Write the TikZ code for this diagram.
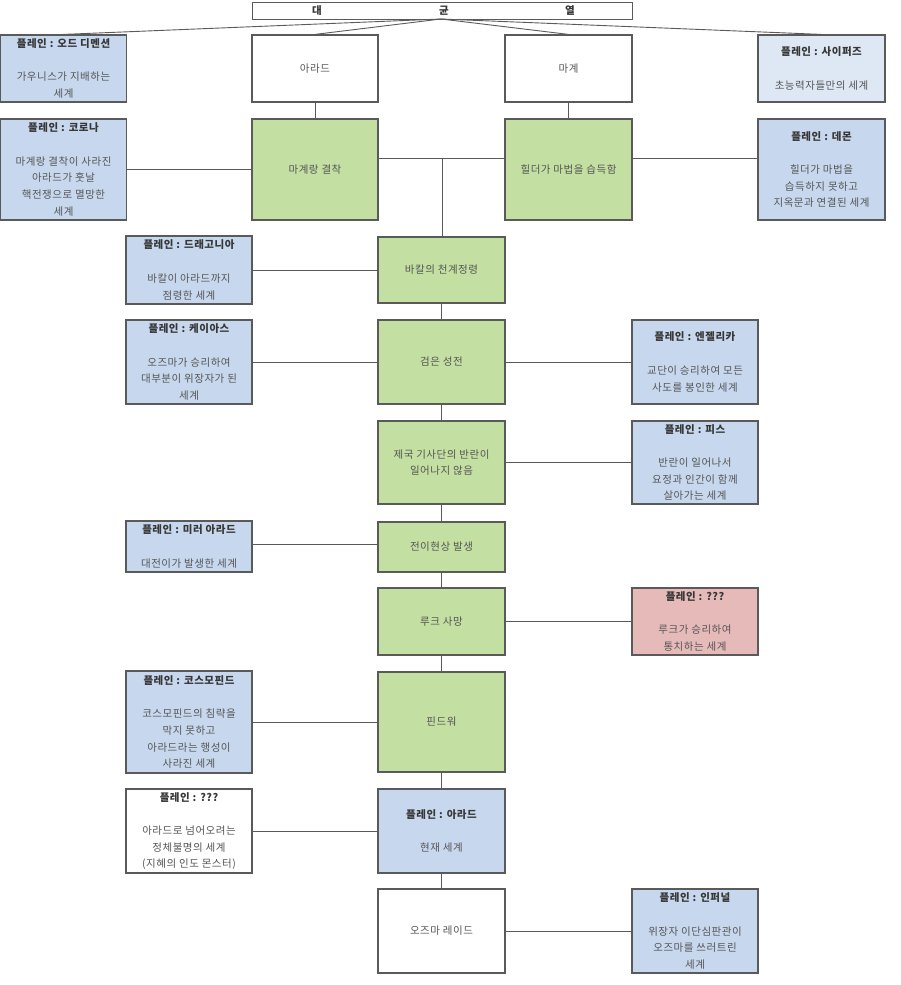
\documentclass[tikz,border=0pt]{standalone}
\usepackage{fontspec}
\setmainfont{Noto Sans CJK KR}[LetterSpace=5]
\definecolor{gfill}{RGB}{196,223,162}
\definecolor{bfill}{RGB}{199,216,238}
\definecolor{lbfill}{RGB}{222,232,245}
\definecolor{rfill}{RGB}{231,186,186}
\definecolor{edge}{RGB}{90,90,90}
\definecolor{txt}{RGB}{85,85,85}
\definecolor{head}{RGB}{55,55,55}
\newcommand\hd[1]{{\color{head}\bfseries #1}\\[16.7pt]}
\begin{document}
\begin{tikzpicture}[x=1pt,y=-1pt,
  box/.style={draw=edge,line width=1.2pt,align=center,inner sep=0pt,
    text=txt,font=\fontsize{10.5}{16.7}\selectfont},
  greenbox/.style={box,fill=gfill},
  bluebox/.style={box,fill=bfill},
  lbluebox/.style={box,fill=lbfill},
  redbox/.style={box,fill=rfill},
  whitebox/.style={box,fill=white},
  titletext/.style={text=head,font=\bfseries\fontsize{10.5}{11}\selectfont},
  conn/.style={draw=edge,line width=0.9pt}]
\useasboundingbox (0,0) rectangle (900,985);
% geometry helper: \bx{name}{style}{cx}{y1}{y2}{w}{text}
\newcommand\bx[7]{\node[#2,minimum width=#6pt,minimum height={(#5-#4)*1pt}] (#1) at (#3,{(#4+#5)/2}) {#7};}
% title
\node[draw=edge,line width=1pt,fill=white,minimum width=380pt,minimum height=17pt,inner sep=0pt] (title) at (442,10.5) {};
\node[titletext] (t1) at (317,10.5) {대};
\node[titletext] (t2) at (444,10.5) {균};
\node[titletext] (t3) at (570,10.5) {열};
% top row
\bx{ode}{bluebox}{63.5}{35}{102}{126}{\hd{플레인 : 오드 디멘션}가우니스가 지배하는\\세계}
\bx{arad}{whitebox}{315}{35}{102}{126}{아라드}
\bx{magye}{whitebox}{568.5}{35}{102}{127}{마계}
\bx{cyphers}{lbluebox}{821.5}{35}{102}{127}{\hd{플레인 : 사이퍼즈}초능력자들만의 세계}
% second row
\bx{corona}{bluebox}{63.5}{119}{220}{126}{\hd{플레인 : 코로나}마계랑 결착이 사라진\\아라드가 훗날\\핵전쟁으로 멸망한\\세계}
\bx{gyeol}{greenbox}{315}{119}{220}{126}{마계랑 결착}
\bx{hilder}{greenbox}{568.5}{119}{220}{127}{힐더가 마법을 습득함}
\bx{demon}{bluebox}{821.5}{119}{220}{127}{\hd{플레인 : 데몬}힐더가 마법을\\습득하지 못하고\\지옥문과 연결된 세계}
% center column
\bx{bakal}{greenbox}{441.5}{237}{303}{127}{바칼의 천계정령}
\bx{black}{greenbox}{441.5}{320}{404}{127}{검은 성전}
\bx{empire}{greenbox}{441.5}{421}{504}{127}{제국 기사단의 반란이\\일어나지 않음}
\bx{transfer}{greenbox}{441.5}{522}{572}{127}{전이현상 발생}
\bx{luke}{greenbox}{441.5}{588}{655}{127}{루크 사망}
\bx{fiend}{greenbox}{441.5}{672}{772}{127}{핀드워}
\bx{aradnow}{bluebox}{441.5}{789}{873}{127}{\hd{플레인 : 아라드}현재 세계}
\bx{ozma}{whitebox}{441.5}{889}{973}{127}{오즈마 레이드}
% left column
\bx{dragonia}{bluebox}{189}{236}{304}{126}{\hd{플레인 : 드래고니아}바칼이 아라드까지\\점령한 세계}
\bx{chaos}{bluebox}{189}{320}{404}{126}{\hd{플레인 : 케이아스}오즈마가 승리하여\\대부분이 위장자가 된\\세계}
\bx{mirror}{bluebox}{189}{521}{572}{126}{\hd{플레인 : 미러 아라드}대전이가 발생한 세계}
\bx{cosmo}{bluebox}{189}{671}{773}{126}{\hd{플레인 : 코스모핀드}코스모핀드의 침략을\\막지 못하고\\아라드라는 행성이\\사라진 세계}
\bx{unkb}{whitebox}{189}{789}{873}{126}{\hd{플레인 : ???}아라드로 넘어오려는\\정체불명의 세계\\(지혜의 인도 몬스터)}
% right column
\bx{angel}{bluebox}{695}{320}{404}{126}{\hd{플레인 : 엔젤리카}교단이 승리하여 모든\\사도를 봉인한 세계}
\bx{peace}{bluebox}{695}{421}{504}{126}{\hd{플레인 : 피스}반란이 일어나서\\요정과 인간이 함께\\살아가는 세계}
\bx{unka}{redbox}{695}{588}{655}{126}{\hd{플레인 : ???}루크가 승리하여\\통치하는 세계}
\bx{infernal}{bluebox}{695}{889}{973}{126}{\hd{플레인 : 인퍼널}위장자 이단심판관이\\오즈마를 쓰러트린\\세계}
% connectors from title
\coordinate (tsrc) at (441,19);
\draw[conn] (tsrc) -- (ode.north);
\draw[conn] (tsrc) -- (arad.north);
\draw[conn] (tsrc) -- (magye.north);
\draw[conn] (tsrc) -- (cyphers.north);
\draw[conn] (arad) -- (gyeol);
\draw[conn] (magye) -- (hilder);
\draw[conn] (corona) -- (gyeol);
\coordinate (jc) at (442,158);
\draw[conn] (gyeol.east |- jc) -- (hilder.west |- jc);
\draw[conn] (hilder.east |- jc) -- (demon.west |- jc);
\draw[conn] (jc) -- (bakal.north -| jc);
\draw[conn] (bakal) -- (black);
\draw[conn] (black) -- (empire);
\draw[conn] (empire) -- (transfer);
\draw[conn] (transfer) -- (luke);
\draw[conn] (luke) -- (fiend);
\draw[conn] (fiend) -- (aradnow);
\draw[conn] (aradnow) -- (ozma);
\draw[conn] (dragonia) -- (bakal);
\draw[conn] (chaos) -- (black);
\draw[conn] (black) -- (angel);
\draw[conn] (empire) -- (peace);
\draw[conn] (mirror.east |- 0,544) -- (transfer.west |- 0,544);
\draw[conn] (luke) -- (unka);
\draw[conn] (cosmo) -- (fiend);
\draw[conn] (unkb) -- (aradnow);
\draw[conn] (ozma) -- (infernal);
\end{tikzpicture}
\end{document}
